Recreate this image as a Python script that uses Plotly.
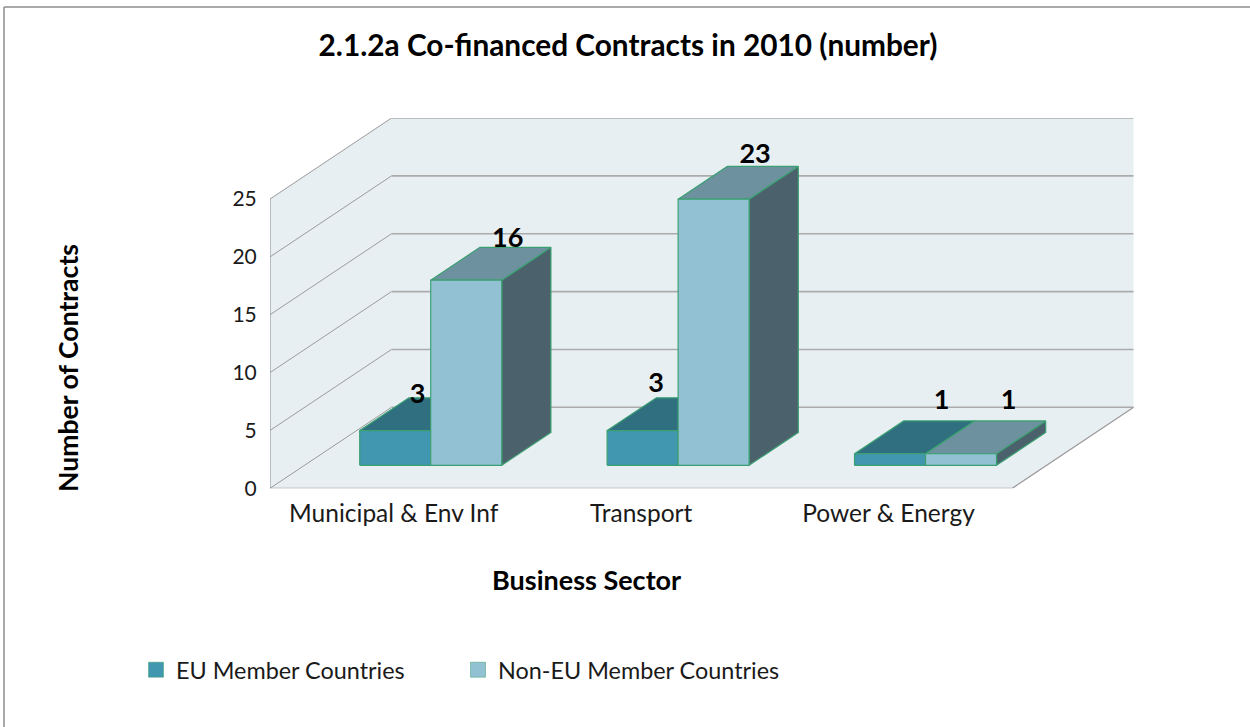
import plotly.graph_objects as go

# ---- data ----
categories = ["Municipal & Env Inf", "Transport", "Power & Energy"]
eu_values = [3, 3, 1]
non_eu_values = [16, 23, 1]
y_ticks = [0, 5, 10, 15, 20, 25]
series_names = ["EU Member Countries", "Non-EU Member Countries"]
title_text = "2.1.2a Co-financed Contracts in 2010 (number)"
x_title = "Business Sector"
y_title = "Number of Contracts"

# ---- style / geometry (pixels of the oblique projection) ----
W, H = 1250, 727
X0, Y0 = 270.0, 488.3      # front-left floor corner
UX, UY = 247.4, 11.57      # pixels per category, pixels per value
DEPTH_PX = (121.5, 81.0)   # floor depth vector
BAR_W_PX = 71.0
BAR_SHIFT_PX = 2.5         # sideways offset of the bars on the floor
BAR_START = 0.284          # fraction of floor depth where bars begin
BAR_DEPTH = 0.405          # fraction of floor depth taken by bars
WALL_TOP = 25
N = len(categories)

FRONT = ["#4097AF", "#92C1D3"]
TOP = ["#2F6F80", "#6E91A0"]
SIDE = ["#2A5763", "#4B626C"]
EDGE = "#3BA071"
WALL = "#E8EFF3"
GRID_BACK = "#ABABAB"
GRID_SIDE = "#9A9A9A"

dx = DEPTH_PX[0] / UX
dy = DEPTH_PX[1] / UY
X_MAX = N + dx
Y_MAX = WALL_TOP + dy


def proj(x, y, d):
    """Oblique projection of (category x, value y, depth fraction d)."""
    return x + d * dx, y + d * dy


def poly(points, fill, line=None, width=1):
    xs = [p[0] for p in points] + [points[0][0]]
    ys = [p[1] for p in points] + [points[0][1]]
    return go.Scatter(
        x=xs, y=ys, mode="lines", fill="toself", fillcolor=fill,
        line=dict(color=line or fill, width=width if line else 0),
        hoverinfo="skip", showlegend=False, cliponaxis=False,
    )


def seg(points, color, width=1):
    return go.Scatter(
        x=[p[0] for p in points], y=[p[1] for p in points], mode="lines",
        line=dict(color=color, width=width), hoverinfo="skip",
        showlegend=False, cliponaxis=False,
    )


def bar_left(cat, s):
    bw = BAR_W_PX / UX
    return cat + 0.5 + BAR_SHIFT_PX / UX - bw + s * bw


fig = go.Figure()

# walls and floor
fig.add_trace(poly([proj(0, 0, 0), proj(N, 0, 0), proj(N, 0, 1), proj(N, WALL_TOP, 1),
                    proj(0, WALL_TOP, 1), proj(0, WALL_TOP, 0)], WALL))
for t in y_ticks:
    fig.add_trace(seg([proj(0, t, 0), proj(0, t, 1)], GRID_SIDE, 1))
    fig.add_trace(seg([proj(0, t, 1), proj(N, t, 1)], GRID_BACK, 1.6))
fig.add_trace(seg([proj(0, WALL_TOP, 0), proj(0, 0, 0), proj(N, 0, 0), proj(N, 0, 1)], GRID_SIDE, 1.2))


def box(cat, s, value):
    left = bar_left(cat, s)
    right = left + BAR_W_PX / UX
    a, b = BAR_START, BAR_START + BAR_DEPTH
    front = [proj(left, 0, a), proj(right, 0, a), proj(right, value, a), proj(left, value, a)]
    top = [proj(left, value, a), proj(right, value, a), proj(right, value, b), proj(left, value, b)]
    side = [proj(right, 0, a), proj(right, 0, b), proj(right, value, b), proj(right, value, a)]
    fig.add_trace(poly(side, SIDE[s], EDGE, 1.2))
    fig.add_trace(poly(top, TOP[s], EDGE, 1.2))
    fig.add_trace(poly(front, FRONT[s], EDGE, 1.2))


for c in range(N):
    box(c, 0, eu_values[c])
    box(c, 1, non_eu_values[c])

# data labels: pixel nudges from each bar's front-left top corner
label_nudges = {
    (0, 0): (58, 34), (0, 1): (77, 40),
    (1, 0): (49, 45), (1, 1): (77, 43),
    (2, 0): (87, 51), (2, 1): (83, 51),
}
lx, ly, lt = [], [], []
for c in range(N):
    for s, vals in enumerate((eu_values, non_eu_values)):
        px, py = proj(bar_left(c, s), vals[c], BAR_START)
        nx, ny = label_nudges[(c, s)]
        lx.append(px + nx / UX)
        ly.append(py + ny / UY)
        lt.append(str(vals[c]))
fig.add_trace(go.Scatter(
    x=lx, y=ly, text=lt, mode="text", textposition="middle center",
    textfont=dict(family="Lato", size=27, color="#000000", weight="bold"),
    hoverinfo="skip", showlegend=False, cliponaxis=False,
))

# legend entries
for s, name in enumerate(series_names):
    fig.add_trace(go.Scatter(
        x=[None], y=[None], mode="markers", name=name,
        marker=dict(symbol="square", size=15, color=FRONT[s], line=dict(color=EDGE, width=0.5)),
    ))

FONT = "Lato"
fig.update_layout(
    width=W, height=H, autosize=False,
    paper_bgcolor="#FFFFFF", plot_bgcolor="rgba(0,0,0,0)",
    margin=dict(l=0, r=0, t=0, b=0),
    font=dict(family=FONT, size=23, color="#1A1A1A"),
    title=dict(text=title_text, x=628 / W, y=1 - 46 / H, xanchor="center", yanchor="middle",
               font=dict(family=FONT, size=29.8, color="#000000", weight="bold")),
    xaxis=dict(domain=[X0 / W, (X0 + X_MAX * UX) / W], range=[0, X_MAX], automargin=False,
               tickmode="array", tickvals=[c + 0.5 for c in range(N)], ticktext=categories,
               showgrid=False, zeroline=False, showline=False,
               ticks="outside", ticklen=3, tickcolor="rgba(0,0,0,0)",
               tickfont=dict(family=FONT, size=24.5, color="#1A1A1A")),
    yaxis=dict(domain=[(H - Y0) / H, (H - Y0 + Y_MAX * UY) / H], range=[0, Y_MAX], automargin=False,
               tickmode="array", tickvals=y_ticks,
               showgrid=False, zeroline=False, showline=False,
               ticks="outside", ticklen=8, tickcolor="rgba(0,0,0,0)",
               tickfont=dict(family=FONT, size=21, color="#1A1A1A")),
    legend=dict(orientation="h",
                x=136 / W, y=1 - 670 / H, xanchor="left", yanchor="middle",
                entrywidth=277, entrywidthmode="pixels",
                font=dict(family=FONT, size=23.4, color="#1A1A1A"), bgcolor="rgba(0,0,0,0)"),
    annotations=[
        dict(text=x_title, x=586 / W, y=1 - 579 / H, xref="paper", yref="paper", showarrow=False,
             xanchor="center", yanchor="middle",
             font=dict(family=FONT, size=27, color="#000000", weight="bold")),
        dict(text=y_title, x=68 / W, y=1 - 368 / H, xref="paper", yref="paper", showarrow=False,
             textangle=-90, xanchor="center", yanchor="middle",
             font=dict(family=FONT, size=26.6, color="#000000", weight="bold")),
    ],
    shapes=[
        dict(type="line", xref="paper", yref="paper", x0=4 / W, x1=1, y0=1 - 7 / H, y1=1 - 7 / H,
             line=dict(color="#8C8C8C", width=1.5), layer="below"),
        dict(type="line", xref="paper", yref="paper", x0=4 / W, x1=4 / W, y0=0, y1=1 - 7 / H,
             line=dict(color="#8C8C8C", width=1.5), layer="below"),
    ],
)
fig.write_html("out.html", config={"displayModeBar": False},
               post_script="document.body.style.margin='0';")
